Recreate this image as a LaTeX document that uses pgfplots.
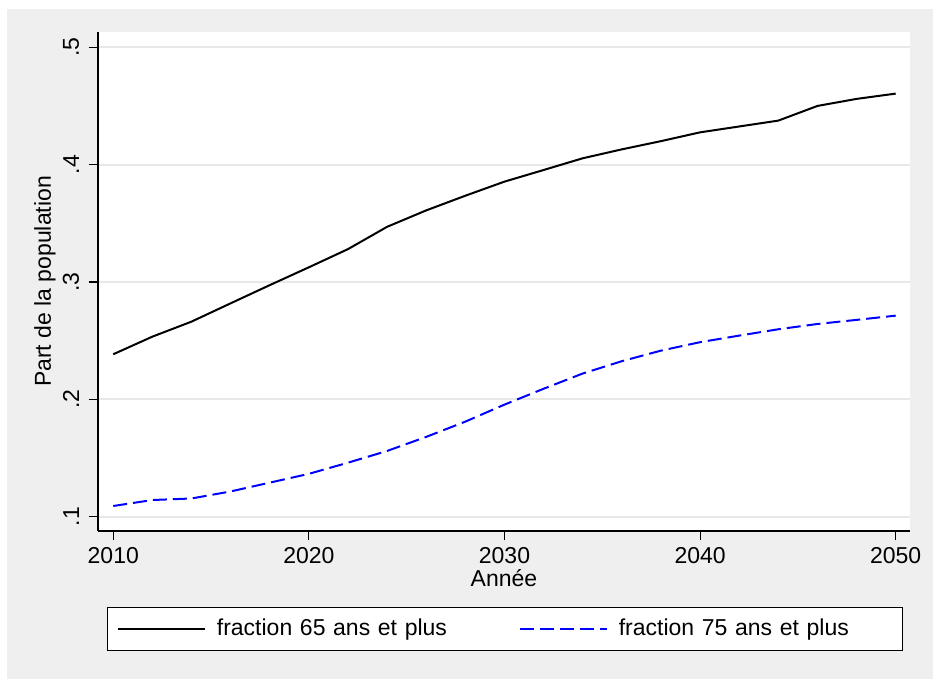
\documentclass[border=0pt]{standalone}
\usepackage{fontspec}
\setmainfont{Liberation Sans}
\usepackage{pgfplots}
\usepackage{pgfplotstable}
\pgfplotsset{compat=1.18}
\definecolor{bggray}{RGB}{239,239,239}
\definecolor{gridgray}{RGB}{232,232,232}
\pgfplotstableread{
year val
2010 0.2384
2012 0.2534
2014 0.2662
2016 0.2818
2018 0.2973
2020 0.3125
2022 0.3280
2024 0.3470
2026 0.3610
2028 0.3735
2030 0.3855
2032 0.3954
2034 0.4054
2036 0.4130
2038 0.4200
2040 0.4275
2042 0.4325
2044 0.4375
2046 0.4500
2048 0.4560
2050 0.4605
}\tabA
\pgfplotstableread{
year val
2010 0.1091
2012 0.1142
2014 0.1155
2016 0.1215
2018 0.1290
2020 0.1365
2022 0.1460
2024 0.1560
2026 0.1680
2028 0.1810
2030 0.1955
2032 0.2090
2034 0.2220
2036 0.2325
2038 0.2415
2040 0.2487
2042 0.2543
2044 0.2597
2046 0.2642
2048 0.2677
2050 0.2713
}\tabB
\begin{document}
\fontsize{11.5}{13.8}\selectfont
\begin{tikzpicture}
\fill[white] (-49pt,-74pt) rectangle (417.5pt,265.5pt);
\fill[bggray] (-45.5pt,-74pt) rectangle (417.5pt,261pt);
\begin{axis}[
  at={(0pt,0pt)}, anchor=south west,
  width=406pt, height=249.5pt, scale only axis,
  xmin=2009.22, xmax=2050.73, ymin=0.0878, ymax=0.513,
  axis background/.style={fill=white},
  axis x line*=bottom, axis y line*=left,
  axis line style={-, line width=0.6pt, black},
  xtick={2010,2020,2030,2040,2050}, xticklabels={2010,2020,2030,2040,2050},
  ytick={0.1,0.2,0.3,0.4,0.5}, yticklabels={.1,.2,.3,.4,.5},
  minor tick num=0,
  tick align=outside, major tick length=4.7pt,
  tick style={line width=0.6pt, black},
  ymajorgrids, grid style={line width=1pt, gridgray},
  ticklabel style={font=\fontsize{11.5}{13.8}\selectfont},
  yticklabel style={rotate=90, anchor=south, inner sep=4.5pt},
  xticklabel style={inner sep=3.2pt},
  legend columns=2,
  legend cell align=left,
  legend image code/.code={\draw[#1] (0pt,0pt) -- (43.3pt,0pt);},
  legend style={at={(axis description cs:0.01108,-0.19639)}, anchor=west,
    draw=black, line width=0.6pt, fill=white,
    inner xsep=4.85pt, inner ysep=5.8pt,
    font=\fontsize{11.5}{13.8}\selectfont,
    nodes={inner sep=0pt, text width=136.8pt},
    /tikz/every odd column/.append style={column sep=5.5pt},
    /tikz/every even column/.append style={column sep=14.35pt}},
]
\addplot[black, line width=1pt] table[x=year, y=val] {\tabA};
\addlegendentry{fraction 65 ans et plus}
\addplot[blue, line width=1pt, dash pattern=on 7pt off 3pt] table[x=year, y=val] {\tabB};
\addlegendentry{fraction 75 ans et plus}
\end{axis}
\node[rotate=90] at (-26.5pt,124.75pt) {Part de la population};
\node at (203pt,-23.5pt) {Année};
\end{tikzpicture}
\end{document}
